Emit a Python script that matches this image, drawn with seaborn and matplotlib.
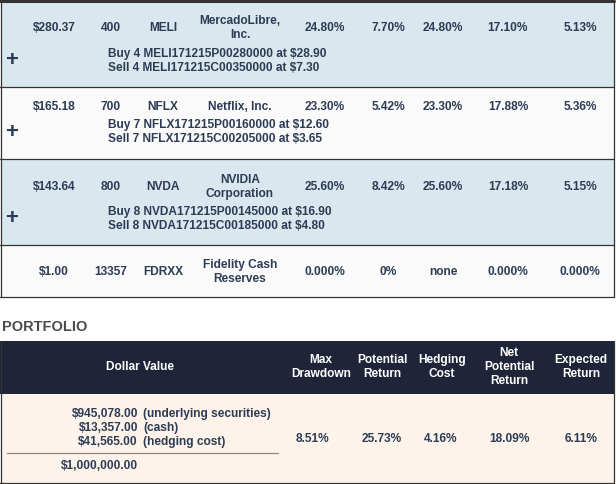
import matplotlib
matplotlib.use('Agg')
import matplotlib.pyplot as plt
import seaborn as sns

# donnees des positions
prices = ['$280.37', '$165.18', '$143.64', '$1.00']
shares = ['400', '700', '800', '13357']
tickers = ['MELI', 'NFLX', 'NVDA', 'FDRXX']
names = ['MercadoLibre,\nInc.', 'Netflix, Inc.', 'NVIDIA\nCorporation', 'Fidelity Cash\nReserves']
max_drawdown = ['24.80%', '23.30%', '25.60%', '0.000%']
hedge_cost = ['7.70%', '5.42%', '8.42%', '0%']
potential = ['24.80%', '23.30%', '25.60%', 'none']
net_potential = ['17.10%', '17.88%', '17.18%', '0.000%']
expected = ['5.13%', '5.36%', '5.15%', '0.000%']
hedges = [
    ['Buy 4 MELI171215P00280000 at $28.90', 'Sell 4 MELI171215C00350000 at $7.30'],
    ['Buy 7 NFLX171215P00160000 at $12.60', 'Sell 7 NFLX171215C00205000 at $3.65'],
    ['Buy 8 NVDA171215P00145000 at $16.90', 'Sell 8 NVDA171215C00185000 at $4.80'],
    None,
]

# donnees du portefeuille
portfolio_headers = ['Max\nDrawdown', 'Potential\nReturn', 'Hedging\nCost', 'Net\nPotential\nReturn', 'Expected\nReturn']
portfolio_values = ['8.51%', '25.73%', '4.16%', '18.09%', '6.11%']
dollar_amounts = ['$945,078.00', '$13,357.00', '$41,565.00']
dollar_labels = ['(underlying securities)', '(cash)', '(hedging cost)']
dollar_total = '$1,000,000.00'

sns.set_theme(style='white')
plt.rcParams['font.family'] = ['Liberation Sans', 'DejaVu Sans']

TXT = '#2d3c55'
BLUE = '#d9e7ef'
WHITE = '#fafafa'
NAVY = '#1f2439'
CREAM = '#fdf3ea'
EDGE = '#333333'
FS = 8.6

fig = plt.figure(figsize=(6.16, 4.84), dpi=100)
ax = fig.add_axes([0, 0, 1, 1])
ax.set_xlim(0, 616)
ax.set_ylim(484, 0)
ax.axis('off')


def txt(x, y, s, ha='center', color=TXT, size=FS, gap=14.5):
    lines = s.split('\n')
    top = y - gap * (len(lines) - 1) / 2
    for i, line in enumerate(lines):
        ax.text(x, top + i * gap, line, ha=ha, va='center', color=color,
                fontsize=size, fontweight='bold')


# tableau des positions
bounds = [1, 87, 159, 245, 297]
fills = [BLUE, WHITE, BLUE, WHITE]
main_y = [28, 107, 187, 272]
col_x = [54, 111, 163, 240, 325, 388, 443, 508, 580]

for i in range(4):
    ax.fill_between([0.5, 613.5], bounds[i], bounds[i + 1], color=fills[i], lw=0)
    row = [prices[i], shares[i], tickers[i], names[i], max_drawdown[i],
           hedge_cost[i], potential[i], net_potential[i], expected[i]]
    for x, s in zip(col_x, row):
        txt(x, main_y[i], s)
    if hedges[i] is not None:
        base = bounds[i] + 52.5 if i != 1 else bounds[i] + 38
        txt(108, base, hedges[i][0], ha='left')
        txt(108, base + 14.5, hedges[i][1], ha='left')
        ax.text(12, base + 7.5, '+', ha='center', va='center', color=TXT,
                fontsize=16, fontweight='bold')

for y in bounds[1:]:
    ax.plot([0, 614], [y, y], color=EDGE, lw=0.9)
ax.plot([0, 614], [1, 1], color=EDGE, lw=2.2)
ax.plot([0.5, 0.5], [0, 297], color=EDGE, lw=0.9)
ax.plot([613.5, 613.5], [0, 297], color=EDGE, lw=0.9)

# portefeuille
ax.text(2, 327, 'PORTFOLIO', ha='left', va='center', color='#4a4a4a',
        fontsize=10.5, fontweight='bold')

ax.fill_between([0, 614], 341, 394, color=NAVY, lw=0)
ax.fill_between([0.5, 613.5], 394, 483, color=CREAM, lw=0)
txt(140, 367, 'Dollar Value', color='white')
head_x = [321, 382, 442, 509, 581]
val_x = [313, 382, 441, 510, 581]
for x, s in zip(head_x, portfolio_headers):
    txt(x, 367, s, color='white')
for x, s in zip(val_x, portfolio_values):
    txt(x, 439, s)

for k, (amt, lab) in enumerate(zip(dollar_amounts, dollar_labels)):
    y = 414 + k * 14
    txt(138, y, amt, ha='right')
    txt(143, y, lab, ha='left')
ax.plot([7, 278], [453, 453], color='#8a8a8a', lw=0.9)
txt(138, 466, dollar_total, ha='right')

ax.plot([0.5, 0.5], [341, 483.5], color=EDGE, lw=0.9)
ax.plot([613.5, 613.5], [341, 483.5], color=EDGE, lw=0.9)
ax.plot([0, 614], [483.3, 483.3], color=EDGE, lw=0.9)

fig.savefig('out.png', dpi=100)
